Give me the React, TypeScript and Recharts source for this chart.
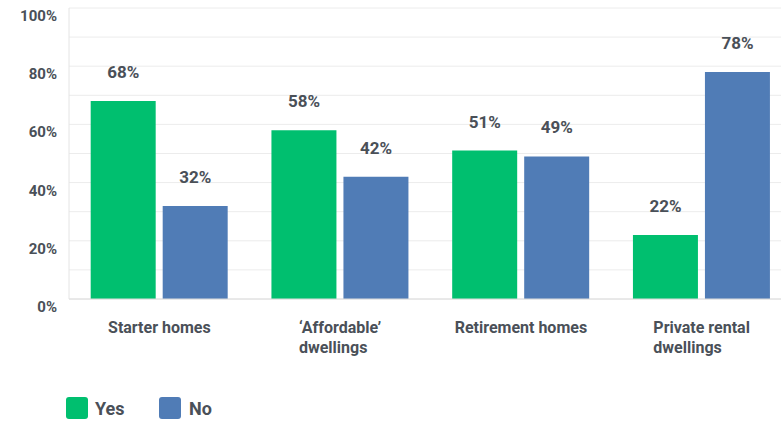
import React from "react";
import { BarChart, Bar, XAxis, YAxis, CartesianGrid, LabelList, Legend } from "recharts";

const categories = [
    ["Starter homes"],
    ["\u2018Affordable\u2019", "dwellings"],
    ["Retirement homes"],
    ["Private rental", "dwellings"],
];
const yesValues = [68, 58, 51, 22];
const noValues = [32, 42, 49, 78];
const yTicks = [0, 10, 20, 30, 40, 50, 60, 70, 80, 90, 100];

const GREEN = "#00bf6f";
const BLUE = "#507cb6";
const TEXT = "#4a5058";
const FONT = "Roboto, 'Noto Sans', sans-serif";

const data = categories.map((lines, i) => ({
    name: lines.join(" "),
    yes: yesValues[i],
    no: noValues[i],
}));

let ctx: CanvasRenderingContext2D | null = null;
const measure = (s: string) => {
    if (!ctx) ctx = document.createElement("canvas").getContext("2d");
    if (!ctx) return s.length * 8;
    ctx.font = `bold 16px ${FONT}`;
    return ctx.measureText(s).width;
};

const CategoryTick = (props: any) => {
    const { x, y, index } = props;
    const lines = categories[index] || [];
    const w = Math.max(...lines.map(measure));
    return (
        <text x={x - w / 2} y={y + 26} fill={TEXT} fontSize={16} fontWeight={700} fontFamily={FONT} textAnchor="start">
            {lines.map((l, i) => (
                <tspan key={i} x={x - w / 2} dy={i === 0 ? 0 : 20}>
                    {l}
                </tspan>
            ))}
        </text>
    );
};

const PercentTick = (props: any) => {
    const { y, payload } = props;
    if (payload.value % 20 !== 0) return null;
    return (
        <text x={57} y={y + 13} fill={TEXT} fontSize={15} fontWeight={700} fontFamily={FONT} textAnchor="end">
            {payload.value}%
        </text>
    );
};

const LegendContent = () => (
    <div style={{ display: "flex", alignItems: "center", fontFamily: FONT, fontSize: 18, fontWeight: 700, color: TEXT }}>
        <span style={{ width: 22, height: 22, background: GREEN, borderRadius: 3, display: "inline-block" }} />
        <span style={{ marginLeft: 7, width: 64 }}>Yes</span>
        <span style={{ width: 22, height: 22, background: BLUE, borderRadius: 3, display: "inline-block" }} />
        <span style={{ marginLeft: 8 }}>No</span>
    </div>
);

const labelProps = {
    position: "top" as const,
    offset: 23,
    formatter: (v: any) => `${v}%`,
    fill: TEXT,
    fontSize: 17,
    fontWeight: 700,
    fontFamily: FONT,
};

export default function App() {
    return (
        <div style={{ position: "absolute", left: 0, top: 0, width: 781, height: 423, overflow: "hidden", background: "#fff" }}>
            <BarChart
                width={800}
                height={423}
                data={data}
                margin={{ top: 8, right: 8, left: 0, bottom: 0 }}
                barCategoryGap="12%"
                barGap={7}
            >
                <CartesianGrid vertical={false} stroke="#ececec" />
                <XAxis
                    dataKey="name"
                    height={124}
                    axisLine={{ stroke: "#dcdcdc" }}
                    tickLine={false}
                    tick={<CategoryTick />}
                    interval={0}
                />
                <YAxis
                    width={69}
                    domain={[0, 100]}
                    ticks={yTicks}
                    axisLine={{ stroke: "#e4e4e4" }}
                    tickLine={false}
                    tick={<PercentTick />}
                    interval={0}
                />
                <Legend
                    layout="horizontal"
                    verticalAlign="middle"
                    align="center"
                    wrapperStyle={{ top: 397, left: 66, width: "auto" }}
                    content={<LegendContent />}
                />
                <Bar dataKey="yes" fill={GREEN} isAnimationActive={false}>
                    <LabelList dataKey="yes" {...labelProps} />
                </Bar>
                <Bar dataKey="no" fill={BLUE} isAnimationActive={false}>
                    <LabelList dataKey="no" {...labelProps} />
                </Bar>
            </BarChart>
        </div>
    );
}
